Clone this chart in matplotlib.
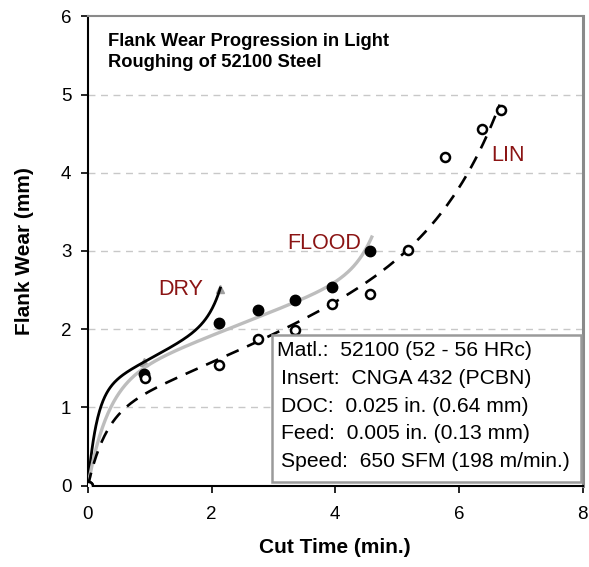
import numpy as np
import matplotlib
matplotlib.use('Agg')
import matplotlib.pyplot as plt
from matplotlib.patches import Rectangle

plt.rcParams['font.family'] = ['Liberation Sans', 'DejaVu Sans']

# measured wear points (cut time in min., flank wear in mm)
dry_t = [0.0, 0.91, 2.14]
dry_vb = [0.0, 1.58, 2.51]
flood_t = [0.0, 0.91, 2.12, 2.75, 3.35, 3.95, 4.56]
flood_vb = [0.0, 1.43, 2.08, 2.24, 2.37, 2.54, 3.00]
lin_t = [0.0, 0.92, 2.12, 2.75, 3.35, 3.94, 4.56, 5.17, 5.78, 6.38, 6.68]
lin_vb = [0.0, 1.37, 1.54, 1.87, 1.99, 2.32, 2.45, 3.01, 4.20, 4.56, 4.80]

# trend fits: vb = a*(1-exp(-b*t)) + c*t + d*(exp(e*t)-1), drawn up to t_end
dry_fit = [1.20, 7.0, 0.42, 9.6e-6, 5.0, 2.14]
flood_fit = [1.30, 3.1, 0.31, 1.2e-7, 3.3, 4.59]
lin_fit = [0.90, 3.5, 0.33, 0.0026, 0.98, 6.66]

x_ticks = [0, 2, 4, 6, 8]
y_ticks = [0, 1, 2, 3, 4, 5, 6]
info_lines = ['Matl.:  52100 (52 - 56 HRc)',
              'Insert:  CNGA 432 (PCBN)',
              'DOC:  0.025 in. (0.64 mm)',
              'Feed:  0.005 in. (0.13 mm)',
              'Speed:  650 SFM (198 m/min.)']

RED = '#8b1414'


def trend(p):
	a, b, c, d, e, t_end = p
	t = np.linspace(0, t_end, 300)
	return t, a * (1 - np.exp(-b * t)) + c * t + d * (np.exp(e * t) - 1)


fig = plt.figure(figsize=(5.89, 5.67), dpi=100)
ax = fig.add_axes([0.1494, 0.1437, 0.8397, 0.8275])

for y in y_ticks[1:-1]:
	ax.axhline(y, color='#c8c8c8', lw=1.0, dashes=(5, 4), zorder=0)

t, vb = trend(dry_fit)
ax.plot(t, vb, color='black', lw=2.0, zorder=3)
t, vb = trend(flood_fit)
ax.plot(t, vb, color='#bdbdbd', lw=2.4, zorder=3)
t, vb = trend(lin_fit)
ax.plot(t, vb, color='black', lw=1.9, dashes=(5, 3.5), zorder=3)

ax.plot(dry_t, dry_vb, '^', color='#a0a0a0', ms=6, zorder=2)
ax.plot(flood_t, flood_vb, 'o', color='black', ms=7.5, zorder=4)
ax.plot(lin_t, lin_vb, 'o', mfc='white', mec='black', mew=1.8, ms=6.5, zorder=5)

ax.text(1.13, 2.44, 'DRY', color=RED, fontsize=15.5)
ax.text(3.22, 3.03, 'FLOOD', color=RED, fontsize=15.5)
ax.text(6.53, 4.15, 'LIN', color=RED, fontsize=15.5)

ax.text(0.04, 0.965, 'Flank Wear Progression in Light\nRoughing of 52100 Steel',
	transform=ax.transAxes, fontsize=13.2, fontweight='bold', va='top', ha='left',
	linespacing=1.3)

# info box
ax.add_patch(Rectangle((2.98, 0.04), 5.0, 1.88, facecolor='white', edgecolor='#9a9a9a',
	lw=1.8, zorder=6))
ys = [1.66, 1.294, 0.944, 0.595, 0.24]
for i, line in enumerate(info_lines):
	x0 = 3.05 if i == 0 else 3.12
	ax.text(x0, ys[i], line, fontsize=15.2, zorder=7, va='baseline')

ax.set_xlim(0, 8)
ax.set_ylim(0, 6)
ax.set_xticks(x_ticks)
ax.set_yticks(y_ticks)
ax.tick_params(axis='both', direction='out', length=5, width=1.2, labelsize=13.5)
ax.tick_params(axis='x', pad=10)
ax.tick_params(axis='y', pad=7)
for s in ['left', 'bottom']:
	ax.spines[s].set_color('black')
	ax.spines[s].set_linewidth(1.5)
ax.spines['top'].set_color('#8a8a8a')
ax.spines['top'].set_linewidth(1.5)
ax.spines['right'].set_color('#8a8a8a')
ax.spines['right'].set_linewidth(2.2)

ax.set_xlabel('Cut Time (min.)', fontsize=15, fontweight='bold')
ax.set_ylabel('Flank Wear (mm)', fontsize=15, fontweight='bold')
ax.xaxis.set_label_coords(0.5, -0.112)
ax.yaxis.set_label_coords(-0.11, 0.5)

fig.savefig('out.png', dpi=100)
